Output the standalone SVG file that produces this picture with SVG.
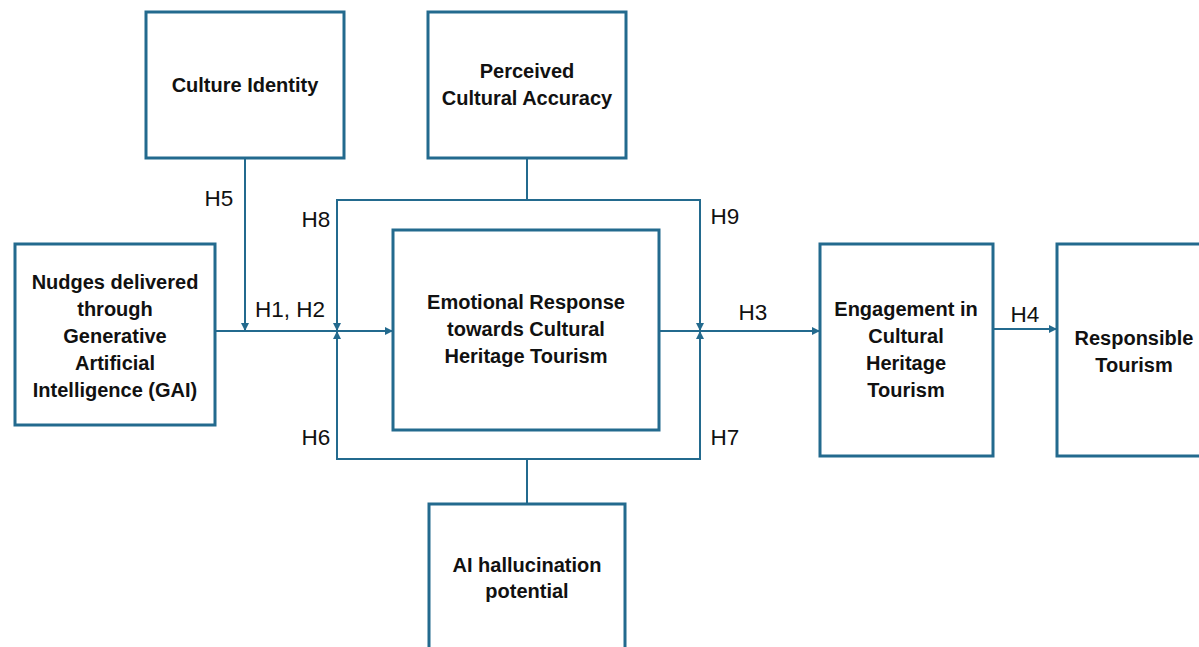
<svg xmlns="http://www.w3.org/2000/svg" width="1199" height="647" viewBox="0 0 1199 647">
<defs>
<style>
.box{fill:#fff;stroke:#236a8e;stroke-width:3}
.ln{fill:none;stroke:#236a8e;stroke-width:2}
.t{font-family:"Liberation Sans",Arial,sans-serif;font-weight:bold;font-size:20px;fill:#111;text-anchor:middle}
.h{font-family:"Liberation Sans",Arial,sans-serif;font-size:22.5px;fill:#111;text-anchor:middle}
</style>
<marker id="ar" viewBox="0 0 10 10" refX="10" refY="5" markerWidth="8" markerHeight="8" markerUnits="userSpaceOnUse" orient="auto">
<path d="M0,0 L10,5 L0,10 z" fill="#236a8e"/>
</marker>
</defs>
<rect width="1199" height="647" fill="#fff"/>
<g id="connectors">
<line class="ln" x1="245" y1="158" x2="245" y2="331" marker-end="url(#ar)"/>
<line class="ln" x1="215" y1="331" x2="393" y2="331" marker-end="url(#ar)"/>
<line class="ln" x1="527" y1="158" x2="527" y2="200"/>
<polyline class="ln" points="337,331 337,200 700,200 700,331" marker-end="url(#ar)"/>
<line class="ln" x1="337" y1="200" x2="337" y2="331" marker-end="url(#ar)"/>
<line class="ln" x1="527" y1="459" x2="527" y2="504"/>
<polyline class="ln" points="337,331 337,459 700,459 700,331" marker-end="url(#ar)"/>
<line class="ln" x1="337" y1="459" x2="337" y2="331" marker-end="url(#ar)"/>
<line class="ln" x1="659" y1="331" x2="820" y2="331" marker-end="url(#ar)"/>
<line class="ln" x1="993" y1="329" x2="1057" y2="329" marker-end="url(#ar)"/>
<text class="h" x="219" y="206">H5</text>
<text class="h" x="316" y="227">H8</text>
<text class="h" x="290" y="317">H1, H2</text>
<text class="h" x="725" y="224">H9</text>
<text class="h" x="753" y="320">H3</text>
<text class="h" x="1025" y="322">H4</text>
<text class="h" x="316" y="445">H6</text>
<text class="h" x="725" y="445">H7</text>
</g>
<g id="culture-identity">
<rect class="box" x="146" y="12" width="198" height="146"/>
<text class="t" x="245" y="92">Culture Identity</text>
</g>
<g id="perceived-accuracy">
<rect class="box" x="428" y="12" width="198" height="146"/>
<text class="t" x="527" y="78">Perceived</text>
<text class="t" x="527" y="105">Cultural Accuracy</text>
</g>
<g id="nudges">
<rect class="box" x="15" y="244" width="200" height="181"/>
<text class="t" x="115" y="289">Nudges delivered</text>
<text class="t" x="115" y="316">through</text>
<text class="t" x="115" y="343">Generative</text>
<text class="t" x="115" y="370">Artificial</text>
<text class="t" x="115" y="397">Intelligence (GAI)</text>
</g>
<g id="emotional-response">
<rect class="box" x="393" y="230" width="266" height="200"/>
<text class="t" x="526" y="309">Emotional Response</text>
<text class="t" x="526" y="336">towards Cultural</text>
<text class="t" x="526" y="363">Heritage Tourism</text>
</g>
<g id="ai-hallucination">
<rect class="box" x="429" y="504" width="196" height="160"/>
<text class="t" x="527" y="572">AI hallucination</text>
<text class="t" x="527" y="598">potential</text>
</g>
<g id="engagement">
<rect class="box" x="820" y="244" width="173" height="212"/>
<text class="t" x="906" y="316">Engagement in</text>
<text class="t" x="906" y="343">Cultural</text>
<text class="t" x="906" y="370">Heritage</text>
<text class="t" x="906" y="397">Tourism</text>
</g>
<g id="responsible-tourism">
<rect class="box" x="1057" y="244" width="160" height="212"/>
<text class="t" x="1134" y="345">Responsible</text>
<text class="t" x="1134" y="372">Tourism</text>
</g>
</svg>
